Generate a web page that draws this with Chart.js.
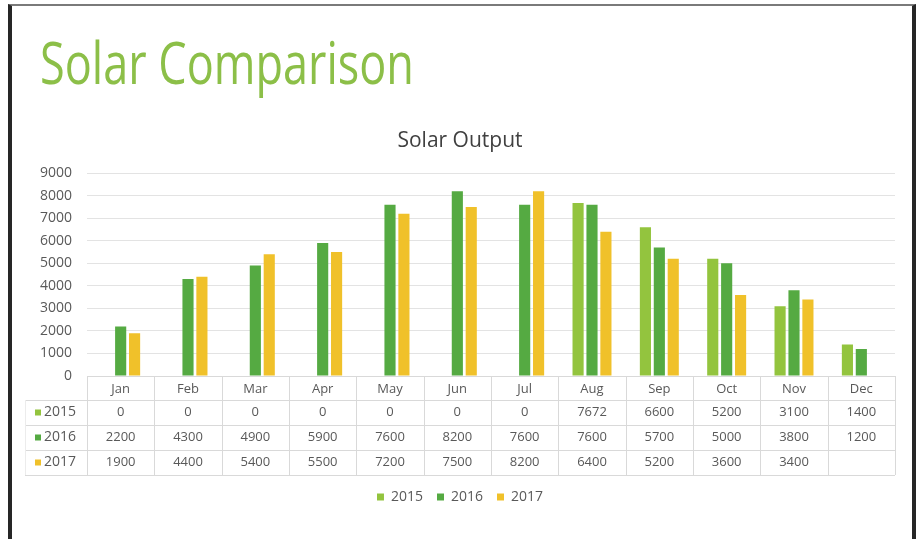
<!DOCTYPE html>
<html>
<head>
<meta charset="utf-8">
<script src="https://cdn.jsdelivr.net/npm/chart.js@4.4.1/dist/chart.umd.min.js"></script>
<style>
  html, body { margin: 0; padding: 0; background: #fff; }
  #frame {
    position: absolute; left: 8px; top: 4px; width: 908px; height: 540px;
    box-sizing: border-box;
    border-top: 2px solid #7a7a7a; border-left: 4px solid #262626; border-right: 4px solid #262626;
    pointer-events: none;
  }
  #slideTitle {
    position: absolute; left: 40px; top: 33px; margin: 0;
    font-family: 'Open Sans', sans-serif; font-weight: normal; font-size: 58px; line-height: 1;
    color: #8cbf48; white-space: nowrap; transform-origin: 0 0;
  }
  #wrap { position: absolute; left: 0; top: 0; width: 920px; height: 539px; }
</style>
</head>
<body>
<div id="wrap"><canvas id="canvas_solar"></canvas></div>
<h1 id="slideTitle">Solar Comparison</h1>
<div id="frame"></div>
<script>
// squeeze the slide title to the width it has in the picture
const titleEl = document.getElementById('slideTitle');
titleEl.style.transform = 'scaleX(' + (374 / titleEl.getBoundingClientRect().width) + ')';

// data
const months = ['Jan', 'Feb', 'Mar', 'Apr', 'May', 'Jun', 'Jul', 'Aug', 'Sep', 'Oct', 'Nov', 'Dec'];
const series_names = ['2015', '2016', '2017'];
const values_2015 = [0, 0, 0, 0, 0, 0, 0, 7672, 6600, 5200, 3100, 1400];
const values_2016 = [2200, 4300, 4900, 5900, 7600, 8200, 7600, 7600, 5700, 5000, 3800, 1200];
const values_2017 = [1900, 4400, 5400, 5500, 7200, 7500, 8200, 6400, 5200, 3600, 3400, null];
const series_colors = ['#93c43e', '#55aa42', '#f0c12a'];
const y_max = 9000;
const y_step = 1000;

const textColor = '#595959';
const lineColor = '#d9d9d9';
const fontFamily = "'Open Sans', sans-serif";

const all_values = [values_2015, values_2016, values_2017];

// data table under the plot, columns follow the x scale
const dataTable = {
  id: 'dataTable',
  afterDraw(chart) {
    const ctx = chart.ctx;
    const x = chart.scales.x;
    const top = chart.chartArea.bottom;
    const headH = 24;
    const rowH = 25;
    const labelLeft = 25;
    const half = (x.getPixelForValue(1) - x.getPixelForValue(0)) / 2;
    const bottom = top + headH + rowH * all_values.length;

    ctx.save();
    ctx.strokeStyle = lineColor;
    ctx.lineWidth = 1;
    ctx.beginPath();
    // horizontal lines
    for (let r = 0; r <= all_values.length; r++) {
      const yy = Math.round(top + headH + r * rowH) + 0.5;
      ctx.moveTo(labelLeft, yy);
      ctx.lineTo(x.right, yy);
    }
    // vertical lines between months
    for (let i = 0; i <= months.length; i++) {
      const xx = Math.round(x.getPixelForValue(0) - half + i * half * 2) + 0.5;
      ctx.moveTo(xx, top);
      ctx.lineTo(xx, bottom);
    }
    ctx.stroke();
    ctx.strokeStyle = '#ececec';
    ctx.beginPath();
    ctx.moveTo(labelLeft + 0.5, top + headH);
    ctx.lineTo(labelLeft + 0.5, bottom);
    ctx.stroke();

    ctx.textBaseline = 'middle';
    all_values.forEach((vals, r) => {
      const cy = top + headH + r * rowH + rowH / 2;
      // series label with its colour swatch
      ctx.fillStyle = series_colors[r];
      ctx.fillRect(labelLeft + 10, cy - 3, 6, 6);
      ctx.fillStyle = textColor;
      ctx.font = '14px ' + fontFamily;
      ctx.textAlign = 'left';
      ctx.fillText(series_names[r], labelLeft + 19, cy);
      // values
      ctx.font = '13px ' + fontFamily;
      ctx.textAlign = 'center';
      vals.forEach((v, i) => {
        if (v === null) return;
        ctx.fillText(String(v), x.getPixelForValue(i), cy);
      });
    });
    ctx.restore();
  }
};

const data_solar = {
  labels: months,
  datasets: series_names.map((name, i) => ({
    label: name,
    data: all_values[i],
    backgroundColor: series_colors[i],
    borderWidth: 0,
    categoryPercentage: 0.62,
    barPercentage: 0.8,
  })),
};

const config_solar = {
  type: 'bar',
  data: data_solar,
  options: {
    responsive: false,
    animation: false,
    layout: { padding: { left: 25, right: 25, top: 115, bottom: 25 } },
    plugins: {
      title: {
        display: true,
        text: 'Solar Output',
        color: '#404040',
        font: { family: fontFamily, size: 21, weight: 'normal' },
        padding: { top: 13, bottom: 20 },
      },
      legend: {
        position: 'bottom',
        labels: {
          boxWidth: 7,
          boxHeight: 7,
          padding: 14,
          color: textColor,
          font: { family: fontFamily, size: 14 },
        },
      },
      tooltip: { enabled: false },
    },
    scales: {
      x: {
        grid: { display: false, drawTicks: false },
        border: { display: true, color: lineColor },
        ticks: { color: textColor, font: { family: fontFamily, size: 13 }, padding: 5 },
        afterFit(scale) { scale.height = 100; },
      },
      y: {
        min: 0,
        max: y_max,
        ticks: {
          stepSize: y_step,
          color: textColor,
          font: { family: fontFamily, size: 14 },
          padding: 15,
          callback: (v) => String(v),
        },
        grid: { color: '#e3e3e3', drawTicks: false },
        border: { display: false },
        afterFit(scale) { scale.width = 62; },
      },
    },
  },
  plugins: [dataTable],
};

const canvas_solar = document.getElementById('canvas_solar');
canvas_solar.width = 920;
canvas_solar.height = 539;
const chart_solar = new Chart(canvas_solar, config_solar);
</script>
</body>
</html>
